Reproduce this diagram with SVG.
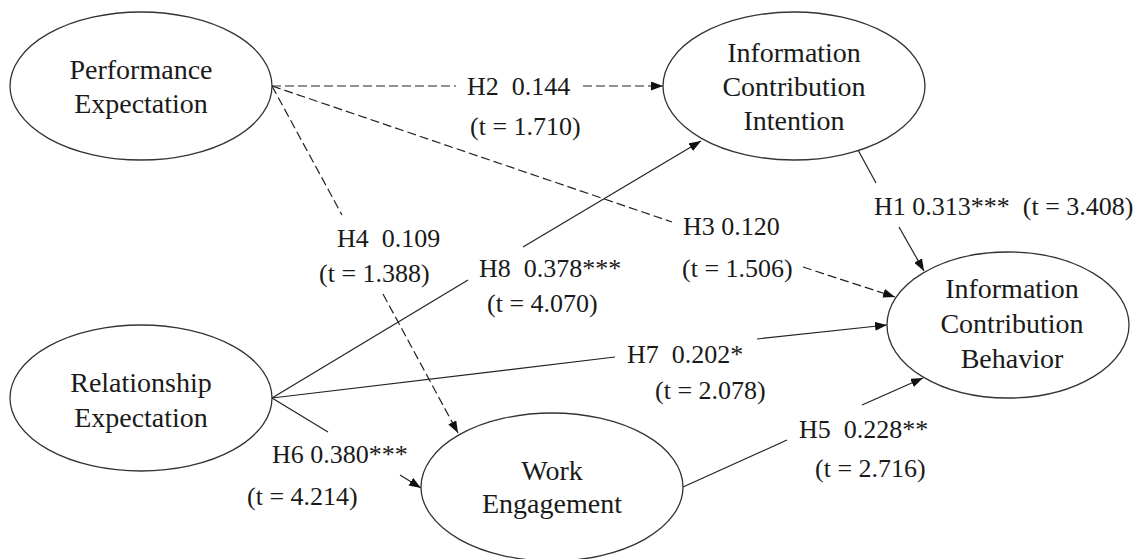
<svg xmlns="http://www.w3.org/2000/svg" width="1138" height="559" viewBox="0 0 1138 559" font-family="Liberation Serif, DejaVu Serif, serif">
<style>
.node ellipse{fill:#fff;stroke:#333;stroke-width:1.3}
.node text{font-size:28px;fill:#1a1a1a;text-anchor:middle}
.lbl{font-size:26px;fill:#1a1a1a}
.c{stroke:#222;stroke-width:1.2;fill:none}
.d{stroke-dasharray:9,4}
</style>
<defs>
<marker id="ah" markerUnits="userSpaceOnUse" markerWidth="13" markerHeight="9" refX="12" refY="4.5" orient="auto">
<path d="M0,0 L12,4.5 L0,9 z" fill="#111"/>
</marker>
</defs>
<rect width="1138" height="559" fill="#fff"/>
<g id="connectors">
<line class="c d" x1="272" y1="86" x2="456" y2="86"/>
<line class="c d" x1="583" y1="86" x2="663" y2="86" marker-end="url(#ah)"/>
<line class="c d" x1="272" y1="86" x2="672" y2="222"/>
<line class="c d" x1="803" y1="267" x2="895" y2="297" marker-end="url(#ah)"/>
<line class="c d" x1="272" y1="86" x2="342" y2="215"/>
<line class="c d" x1="383" y1="294" x2="458" y2="433" marker-end="url(#ah)"/>
<line class="c" x1="858" y1="150" x2="876" y2="183"/>
<line class="c" x1="899" y1="227" x2="924" y2="271" marker-end="url(#ah)"/>
<line class="c" x1="272" y1="398" x2="468" y2="280"/>
<line class="c" x1="523" y1="247" x2="701" y2="141" marker-end="url(#ah)"/>
<line class="c" x1="272" y1="398" x2="615" y2="357"/>
<line class="c" x1="757" y1="339" x2="887" y2="325" marker-end="url(#ah)"/>
<line class="c" x1="272" y1="398" x2="328" y2="432"/>
<line class="c" x1="400" y1="475" x2="421" y2="488" marker-end="url(#ah)"/>
<line class="c" x1="683" y1="487" x2="787" y2="440"/>
<line class="c" x1="862" y1="405" x2="923" y2="378" marker-end="url(#ah)"/>
</g>
<g id="labels" font-family="Liberation Serif">
<text class="lbl" x="467" y="95" xml:space="preserve">H2  0.144</text>
<text class="lbl" x="470" y="135">(t = 1.710)</text>
<text class="lbl" x="683" y="235">H3 0.120</text>
<text class="lbl" x="682" y="277">(t = 1.506)</text>
<text class="lbl" x="337" y="247" xml:space="preserve">H4  0.109</text>
<text class="lbl" x="319" y="282">(t = 1.388)</text>
<text class="lbl" x="874" y="215" xml:space="preserve">H1 0.313***  (t = 3.408)</text>
<text class="lbl" x="479" y="277" xml:space="preserve">H8  0.378***</text>
<text class="lbl" x="487" y="312">(t = 4.070)</text>
<text class="lbl" x="627" y="363" xml:space="preserve">H7  0.202*</text>
<text class="lbl" x="655" y="399">(t = 2.078)</text>
<text class="lbl" x="272" y="463">H6 0.380***</text>
<text class="lbl" x="247" y="505">(t = 4.214)</text>
<text class="lbl" x="799" y="438" xml:space="preserve">H5  0.228**</text>
<text class="lbl" x="815" y="477">(t = 2.716)</text>
</g>
<g id="performance-expectation" class="node" font-family="Liberation Serif">
<ellipse cx="141" cy="86" rx="131" ry="74"/>
<text x="141" y="79">Performance</text>
<text x="141" y="113">Expectation</text>
</g>
<g id="information-contribution-intention" class="node" font-family="Liberation Serif">
<ellipse cx="794" cy="86" rx="131" ry="74"/>
<text x="794" y="62">Information</text>
<text x="794" y="96">Contribution</text>
<text x="794" y="130">Intention</text>
</g>
<g id="information-contribution-behavior" class="node" font-family="Liberation Serif">
<ellipse cx="1008" cy="325" rx="121" ry="73"/>
<text x="1012" y="298">Information</text>
<text x="1012" y="333">Contribution</text>
<text x="1012" y="368">Behavior</text>
</g>
<g id="relationship-expectation" class="node" font-family="Liberation Serif">
<ellipse cx="141" cy="398" rx="131" ry="73"/>
<text x="141" y="392">Relationship</text>
<text x="141" y="427">Expectation</text>
</g>
<g id="work-engagement" class="node" font-family="Liberation Serif">
<ellipse cx="552" cy="487" rx="131" ry="74"/>
<text x="552" y="480">Work</text>
<text x="552" y="513">Engagement</text>
</g>
</svg>
